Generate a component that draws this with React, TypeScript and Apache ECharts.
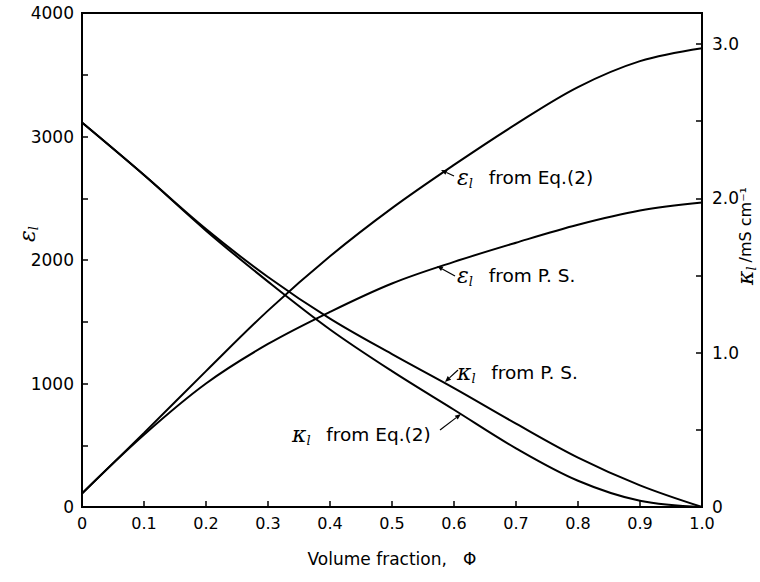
import React, { useEffect, useRef } from "react";
import * as echarts from "echarts";

// Volume fraction values
const phiValues = [0, 0.1, 0.2, 0.3, 0.4, 0.5, 0.6, 0.7, 0.8, 0.9, 1.0];
// permittivity (left axis)
const epsEq2 = [110, 600, 1100, 1590, 2030, 2420, 2770, 3100, 3400, 3610, 3715];
const epsPS = [110, 585, 1000, 1320, 1580, 1810, 1985, 2140, 2285, 2400, 2465];
// conductivity (right axis, mS/cm)
const kPS = [2.49, 2.15, 1.8, 1.49, 1.22, 0.99, 0.77, 0.54, 0.32, 0.14, 0];
const kEq2 = [2.49, 2.15, 1.79, 1.46, 1.15, 0.88, 0.63, 0.38, 0.17, 0.04, 0];

const leftTicks = [0, 1000, 2000, 3000, 4000];
const rightTicks = [0, 1, 2, 3];

const FONT = "DejaVu Sans";
const SERIF = "DejaVu Serif";

const pairs = (ys: number[]) => phiValues.map((x, i) => [x, ys[i]]);

function arrow(sx: number, sy: number, tx: number, ty: number) {
  const dx = tx - sx;
  const dy = ty - sy;
  const len = Math.sqrt(dx * dx + dy * dy);
  const ux = dx / len;
  const uy = dy / len;
  const hl = 6;
  const hw = 2.5;
  const bx = tx - ux * hl;
  const by = ty - uy * hl;
  return [
    {
      type: "line",
      shape: { x1: sx, y1: sy, x2: bx, y2: by },
      style: { stroke: "#000", lineWidth: 1.2 },
    },
    {
      type: "polygon",
      shape: {
        points: [
          [tx, ty],
          [bx - uy * hw, by + ux * hw],
          [bx + uy * hw, by - ux * hw],
        ],
      },
      style: { fill: "#000" },
    },
  ];
}

const rich = {
  g: { fontFamily: SERIF, fontStyle: "italic", fontSize: 22, fill: "#000" },
  s: { fontFamily: SERIF, fontStyle: "italic", fontSize: 13, padding: [12, 4, 0, 0], fill: "#000" },
  t: { fontFamily: FONT, fontSize: 18.5, fill: "#000" },
  r: { fontFamily: FONT, fontSize: 16, fill: "#000" },
};

function label(x: number, y: number, greek: string, rest: string) {
  return {
    type: "text",
    x,
    y,
    style: {
      text: `{g|${greek}}{s|l}{t|  ${rest}}`,
      rich,
      verticalAlign: "middle",
      align: "left",
    },
  };
}

export default function App() {
  const ref = useRef<HTMLDivElement>(null);
  useEffect(() => {
    if (!ref.current) return;
    const chart = echarts.init(ref.current, undefined, { renderer: "svg" });
    const lineStyle = { color: "#000", width: 2 };
    const option: any = {
      animation: false,
      backgroundColor: "#fff",
      grid: {
        left: 82,
        right: 58,
        top: 13,
        bottom: 75,
        show: true,
        borderColor: "#000",
        borderWidth: 2,
      },
      xAxis: {
        type: "value",
        min: 0,
        max: 1,
        interval: 0.1,
        axisLine: { onZero: false, lineStyle: { color: "#000", width: 2 } },
        axisTick: { inside: true, length: 6, lineStyle: { color: "#000", width: 1.5 } },
        axisLabel: {
          color: "#000",
          fontFamily: FONT,
          fontSize: 16,
          margin: 8,
          formatter: (v: number) => (v === 0 ? "0" : v.toFixed(1)),
        },
        splitLine: { show: false },
        name: "Volume fraction,   Φ",
        nameLocation: "middle",
        nameGap: 43,
        nameTextStyle: { color: "#000", fontFamily: FONT, fontSize: 17 },
      },
      yAxis: [
        {
          type: "value",
          min: 0,
          max: 4000,
          interval: 500,
          position: "left",
          axisLine: { onZero: false, lineStyle: { color: "#000", width: 2 } },
          axisTick: { inside: true, length: 6, lineStyle: { color: "#000", width: 1.5 } },
          axisLabel: {
            color: "#000",
            fontFamily: FONT,
            fontSize: 17,
            margin: 8,
            formatter: (v: number) => (leftTicks.includes(v) ? String(v) : ""),
          },
          splitLine: { show: false },
        },
        {
          type: "value",
          min: 0,
          max: 3.2,
          interval: 0.5,
          position: "right",
          axisLine: { onZero: false, lineStyle: { color: "#000", width: 2 } },
          axisTick: { inside: true, length: 6, lineStyle: { color: "#000", width: 1.5 } },
          axisLabel: {
            color: "#000",
            fontFamily: FONT,
            fontSize: 17,
            margin: 10,
            formatter: (v: number) => {
              const r = Math.round(v);
              if (Math.abs(v - r) > 1e-6 || !rightTicks.includes(r)) return "";
              return r === 0 ? "0" : r.toFixed(1);
            },
          },
          splitLine: { show: false },
        },
      ],
      series: [
        { name: "εl from Eq.(2)", type: "line", yAxisIndex: 0, data: pairs(epsEq2), smooth: 0.35, showSymbol: false, lineStyle },
        { name: "εl from P. S.", type: "line", yAxisIndex: 0, data: pairs(epsPS), smooth: 0.35, showSymbol: false, lineStyle },
        { name: "κl from P. S.", type: "line", yAxisIndex: 1, data: pairs(kPS), smooth: 0.35, showSymbol: false, lineStyle },
        { name: "κl from Eq.(2)", type: "line", yAxisIndex: 1, data: pairs(kEq2), smooth: 0.35, showSymbol: false, lineStyle },
      ],
      graphic: [
        label(457, 177, "ε", "from Eq.(2)"),
        label(457, 275, "ε", "from P. S."),
        label(457, 372, "κ", "from P. S."),
        label(292, 434, "κ", "from Eq.(2)"),
        ...arrow(440, 430, 461, 414),
        ...arrow(454, 176, 441, 170),
        ...arrow(455, 276, 437, 266),
        ...arrow(458, 370, 445, 382),
        {
          type: "text",
          x: 27,
          y: 232,
          rotation: Math.PI / 2,
          style: {
            text: "{g|ε}{s|l}",
            rich,
            align: "center",
            verticalAlign: "middle",
          },
        },
        {
          type: "text",
          x: 745,
          y: 236,
          rotation: Math.PI / 2,
          style: {
            text: "{g|κ}{s|l}{r|/mS cm⁻¹}",
            rich,
            align: "center",
            verticalAlign: "middle",
          },
        },
      ],
    };
    chart.setOption(option);
    return () => chart.dispose();
  }, []);
  return (
    <div
      ref={ref}
      style={{ position: "fixed", left: 0, top: 0, width: 760, height: 582, background: "#fff" }}
    />
  );
}
